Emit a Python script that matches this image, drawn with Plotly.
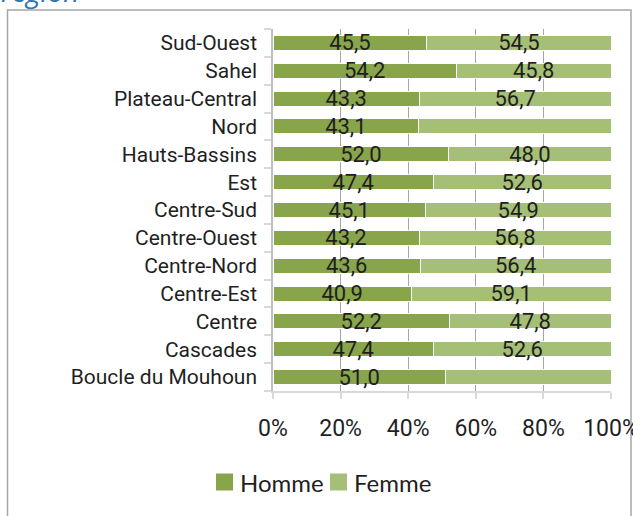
import plotly.graph_objects as go

regions = ["Boucle du Mouhoun", "Cascades", "Centre", "Centre-Est", "Centre-Nord",
           "Centre-Ouest", "Centre-Sud", "Est", "Hauts-Bassins", "Nord",
           "Plateau-Central", "Sahel", "Sud-Ouest"]
homme = [51.0, 47.4, 52.2, 40.9, 43.6, 43.2, 45.1, 47.4, 52.0, 43.1, 43.3, 54.2, 45.5]
femme = [49.0, 52.6, 47.8, 59.1, 56.4, 56.8, 54.9, 52.6, 48.0, 56.9, 56.7, 45.8, 54.5]
femme_label_shown = [False, True, True, True, True, True, True, True, True, False, True, True, True]
x_ticks = [0, 20, 40, 60, 80, 100]
x_tick_labels = ["0%", "20%", "40%", "60%", "80%", "100%"]
series_names = ["Homme", "Femme"]

def fmt(v):
    return f"{v:.1f}".replace(".", ",")

homme_text = [fmt(v) for v in homme]
femme_text = [fmt(v) if s else "" for v, s in zip(femme, femme_label_shown)]

C_H = "#88A54C"
C_F = "#A6BF77"
FONT = "Roboto"
TXT = "#1F1F1F"

fig = go.Figure()
fig.add_trace(go.Bar(
    y=regions, x=homme, orientation="h", name=series_names[0], showlegend=False,
    marker=dict(color=C_H, line=dict(color="white", width=1)),
    text=homme_text, textposition="inside", insidetextanchor="middle",
    constraintext="none", textangle=0,
    textfont=dict(family=FONT, size=22, color=TXT), hoverinfo="x+y",
))
fig.add_trace(go.Bar(
    y=regions, x=femme, orientation="h", name=series_names[1], showlegend=False,
    marker=dict(color=C_F, line=dict(color="white", width=1)),
    text=femme_text, textposition="inside", insidetextanchor="middle",
    constraintext="none", textangle=0,
    textfont=dict(family=FONT, size=22, color=TXT), hoverinfo="x+y",
))

W, H = 633, 516
L, R, T, B = 273, 22, 29, 125
pw, ph = W - L - R, H - T - B

def px_x(p):
    return (p - L) / pw

def px_y(p):
    return (H - B - p) / ph

shapes = [dict(type="rect", xref="paper", yref="paper",
               x0=px_x(7.5), x1=px_x(631), y0=px_y(530), y1=px_y(10),
               line=dict(color="#A6A6A6", width=1.5), fillcolor="rgba(0,0,0,0)",
               layer="below")]
annotations = [dict(text="<i>région</i>", xref="paper", yref="paper",
                    x=px_x(-1), xanchor="left", y=px_y(-9.5), yanchor="middle",
                    showarrow=False,
                    font=dict(family="Open Sans", size=28, color="#2E75B6"))]

# manual legend
leg_cy = 482
for (sx, tx), nm, col in zip([(216, 240), (330, 354)], series_names, [C_H, C_F]):
    shapes.append(dict(type="rect", xref="paper", yref="paper",
                       x0=px_x(sx), x1=px_x(sx + 17), y0=px_y(leg_cy + 8.5), y1=px_y(leg_cy - 8.5),
                       line=dict(width=0), fillcolor=col))
    annotations.append(dict(text=nm, xref="paper", yref="paper",
                            x=px_x(tx - 2), xanchor="left", y=px_y(leg_cy), yanchor="middle",
                            showarrow=False,
                            font=dict(family="Lato", size=24, color=TXT)))

fig.update_layout(
    width=W, height=H,
    margin=dict(l=L, r=R, t=T, b=B, pad=0, autoexpand=False),
    barmode="stack", bargap=0.46,
    plot_bgcolor="white", paper_bgcolor="white",
    font=dict(family=FONT, size=21, color=TXT),
    showlegend=False,
    xaxis=dict(range=[0, 100], tickvals=x_ticks, ticktext=x_tick_labels,
               automargin=False,
               showgrid=True, gridcolor="#A6A6A6", gridwidth=1.3,
               showline=True, linecolor="#D9D9D9", linewidth=1.5,
               ticks="outside", ticklen=6, tickcolor="#D9D9D9", tickwidth=1.5,
               ticklabelstandoff=10, ticklabeloverflow="allow",
               tickfont=dict(family=FONT, size=23, color=TXT),
               zeroline=False, fixedrange=True),
    yaxis=dict(showline=True, linecolor="#BFBFBF", linewidth=1.5,
               automargin=False,
               ticks="outside", ticklen=7, tickcolor="#D9D9D9", tickwidth=1.5,
               tickson="boundaries", ticklabelstandoff=10,
               tickfont=dict(family=FONT, size=21, color=TXT),
               showgrid=False, fixedrange=True),
    shapes=shapes,
    annotations=annotations,
)

fig.write_html("out.html", config={"displayModeBar": False},
               post_script="document.body.style.margin='0';document.body.style.overflow='hidden';")
